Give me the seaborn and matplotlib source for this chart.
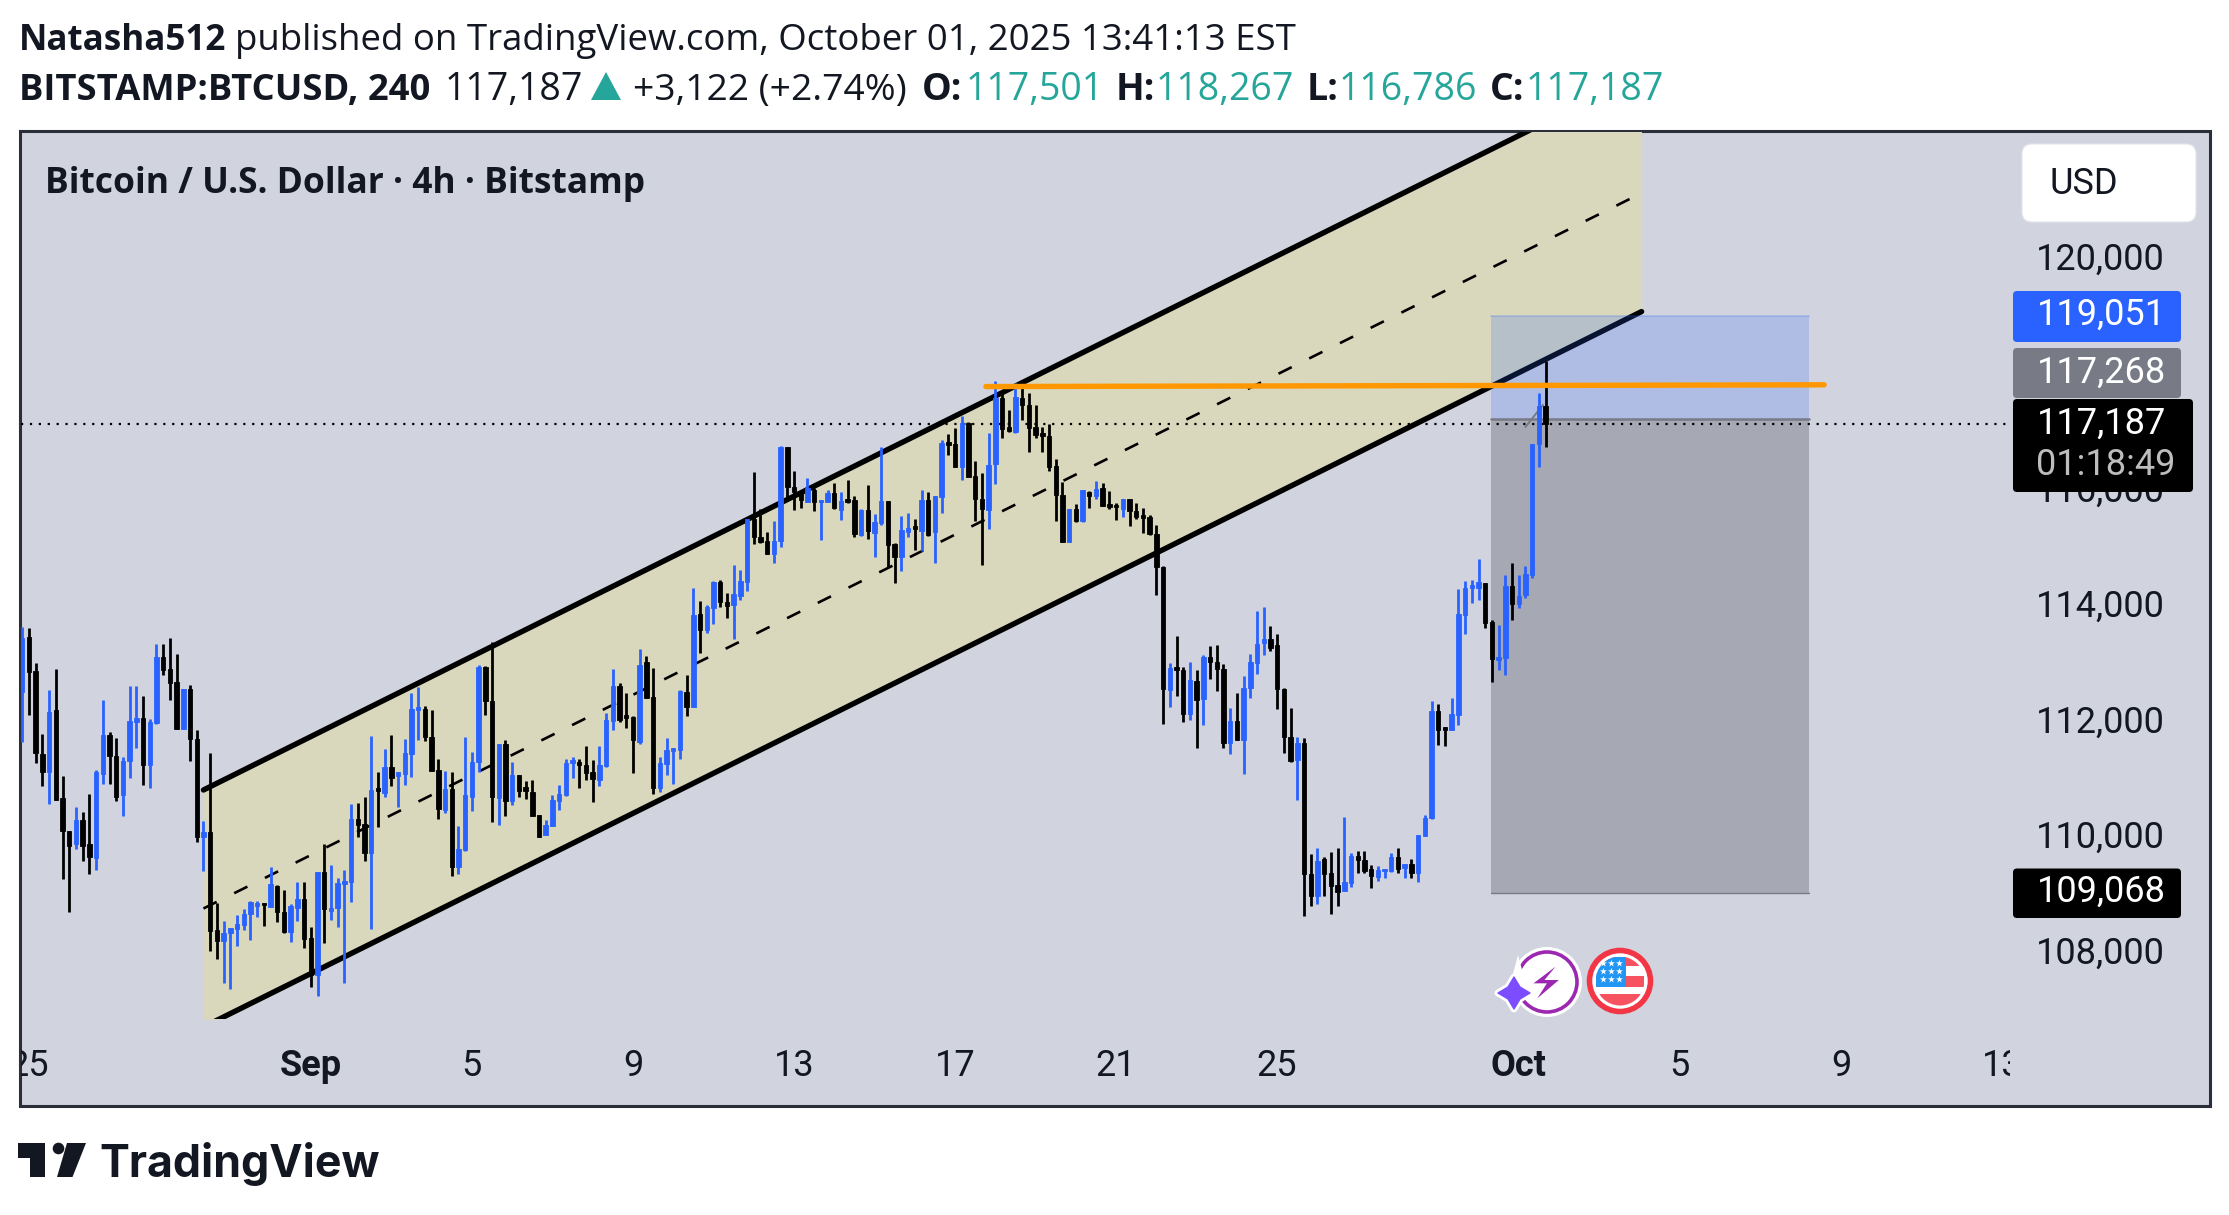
import numpy as np
import pandas as pd
import seaborn as sns
import matplotlib
matplotlib.use("Agg")
import matplotlib.pyplot as plt
from matplotlib.patches import Rectangle, FancyBboxPatch, Circle, Polygon
from matplotlib.transforms import Bbox, Affine2D

highs = [
113677,113648,113042,111820,112581,112944,111087,110136,110551,110464,
110776,111191,112402,111848,111745,111416,112644,112644,112471,112073,
113371,113371,113475,113198,112592,112662,111883,110309,111485,108890,
108579,108457,108682,108786,108936,108925,108890,109513,109201,109115,
108873,109253,109253,108475,109426,109911,109547,109323,109461,110603,
110620,110724,111779,111156,111554,111797,111168,111727,112523,112627,
112298,112229,111381,111174,111156,110222,111762,111502,113008,112990,
113406,111646,111716,111335,111110,111012,111024,110412,110332,110764,
110937,111387,111416,111387,111612,111364,111612,112177,112938,112696,
112523,112125,113284,113169,112956,111422,111750,111577,112575,112834,
114340,114115,114046,114461,114478,114253,114738,114651,115533,116347,
115706,115314,115499,116796,116779,116364,116041,116243,116070,115874,
116035,116156,116001,116208,115937,115706,116122,115626,116779,115845,
115118,115591,115637,115533,116035,116001,115931,116900,117010,117108,
117321,117223,116543,116330,117019,117919,117774,117416,117893,117946,
117714,117509,117125,117184,116569,116185,115708,115794,116032,116026,
116191,116165,116019,115807,115893,115893,115807,115721,115602,115430,
114721,113040,113510,112980,113059,112920,113179,113338,113351,113026,
112272,112536,112814,113198,113940,114013,113695,113543,112622,112265,
111775,111742,109736,109855,109683,109769,109842,110378,109756,109802,
109789,109544,109531,109484,109756,109842,109570,109650,110067,110411,
112384,112338,111934,112437,114331,114463,114478,114841,114432,113798,
113713,114578,114771,114563,114733,116833,117714,118267]
lows = [
111687,112148,111312,110926,110603,110672,109305,108746,109824,109617,
109392,109472,110960,110949,110666,110407,111064,111583,110943,110891,
111987,112846,112414,111912,111900,111358,109957,109455,108071,107933,
107517,107414,108158,108434,108261,108659,108504,108832,108573,108371,
108227,108590,108123,107448,107293,108209,108607,108486,107517,108919,
110043,109628,108452,110216,110735,110926,110562,110943,111081,111722,
111704,111185,110355,110459,109369,109392,109801,110493,111156,112154,
110303,110245,110406,110597,110735,110701,110406,110043,110078,110233,
110510,110752,111064,110891,111029,110649,110926,111254,111894,112033,
111929,111150,111646,112448,110787,110822,111116,110960,111393,112137,
112292,113227,113573,113728,114022,113832,113469,114144,114299,115112,
115130,114928,114784,115060,115879,115701,115735,115839,115683,115182,
115839,115712,115528,115822,115233,115251,115199,114887,115435,114703,
114438,114645,115233,115003,114985,115251,114784,115649,116646,116433,
116220,116272,115505,114748,115370,116151,116933,117045,117032,117244,
116701,116939,116701,116370,115509,115138,115138,115489,115489,115728,
115887,115761,115708,115522,115575,115417,115536,115297,115264,114231,
112000,112285,112477,112033,112066,111576,111980,112775,112569,111583,
111470,111722,111133,112444,112861,113185,113258,112258,111490,111338,
110676,108676,108835,108882,109021,108696,108835,109094,109173,109411,
109418,109153,109272,109325,109438,109418,109325,109325,109259,110060,
110351,111636,111616,111894,111968,113543,114092,114130,113659,112725,
112933,112833,113798,113991,114177,114524,116432,116786]
opens = [
112552,113492,112910,111468,111168,112229,110712,110136,109917,110326,
109911,109669,111122,111797,111433,110759,111347,112033,112091,111278,
112004,113146,112938,112714,111900,112592,111727,110043,110118,108429,
108244,108382,108452,108515,108711,108850,108890,108832,109190,108734,
108400,108815,108959,108284,107656,109426,108763,108809,109230,109265,
110343,110257,109755,110880,110805,111243,111099,111122,111479,112241,
112246,111762,111191,110505,110862,109524,109813,110735,111329,112973,
112385,110718,111646,110660,111110,110897,110816,110412,110078,110233,
110666,110758,111318,111341,111277,111156,111024,111260,112050,112650,
112148,112114,111687,113065,112454,110891,111295,111531,111543,112546,
112292,113890,113619,113994,114443,114097,114051,114213,114455,115533,
115233,115153,114934,115153,116779,116099,116024,115839,116035,115827,
115839,115983,115695,115879,115868,115262,115695,115303,115464,115845,
115107,114876,115314,115418,115332,115868,115314,115926,116871,116837,
116433,117194,116277,115893,115688,116489,117628,117131,117045,117628,
117509,117131,117032,116979,116449,115946,115138,115708,115496,116012,
115940,116072,115794,115787,115708,115893,115675,115615,115575,115271,
114708,112583,112973,112927,112166,112742,112430,113159,113059,112940,
111656,112046,111722,112622,113046,113390,113470,113357,112596,111768,
111371,111669,109405,109021,109650,109418,109199,109094,109239,109709,
109636,109484,109352,109451,109451,109683,109497,109563,109418,110060,
110358,112212,111934,111894,112146,113883,114347,114347,114432,113752,
113103,113126,114378,114061,114215,114571,116833,117501]
closes = [
113475,112898,111485,111168,112195,110672,110147,109888,110326,109888,
109686,111162,111797,111433,110724,111347,112039,112091,111278,112021,
113146,112927,112696,111912,112592,111739,110043,110118,108417,108244,
108371,108457,108527,108711,108907,108890,108855,109219,108734,108394,
108844,108959,108279,107656,109426,108786,108804,109248,109276,110343,
110245,109767,110845,110839,111243,111064,111168,111485,112246,112281,
111762,111185,110516,110862,109524,109824,110759,111329,112985,112385,
110724,111646,110666,111110,110839,110833,110406,110043,110245,110678,
110776,111324,111370,111277,111139,111047,111277,112062,112650,112062,
112102,111721,113007,112448,110891,111324,111543,111577,112558,112292,
113872,113619,114011,114443,114109,114040,114236,114461,115533,115233,
115135,114928,115153,116791,116099,116012,115868,116081,115839,115874,
115995,115724,115856,115827,115274,115695,115326,115481,115851,115095,
114887,115343,115383,115372,115868,115268,115931,116848,116819,116433,
117194,116272,115891,115708,116469,117628,117098,117059,117641,117509,
117111,116999,116966,116436,115946,115138,115708,115503,116032,115940,
116065,115767,115741,115741,115893,115675,115575,115562,115277,114715,
112596,112960,112934,112166,112755,112411,113159,113059,112940,111669,
112046,111722,112616,113059,113384,113470,113311,112596,111768,111358,
111669,109405,109021,109630,109398,109186,109087,109252,109709,109636,
109451,109365,109471,109484,109696,109484,109563,109418,110067,110365,
112212,111881,111894,112159,113899,114347,114401,114447,113737,113111,
113150,114378,114061,114208,114586,116833,117498,117187]

# drawings
channel_bars = [27.0, 241.3]
channel_upper = [110850, 123228]
channel_lower = [106750, 119127]
channel_mid = [108800, 121177]
level_bars = [143.6, 268.5]
level_prices = [117830, 117860]
position_bars = [218.9, 266.3]
target_price, entry_price, stop_price = 119051, 117268, 109068
last_price = 117187

ytick_values = [108000, 110000, 112000, 114000, 116000, 120000]
xtick_bars = [1, 43, 67, 91, 115, 139, 163, 187, 223, 247, 271, 295]
xtick_labels = ["25", "Sep", "5", "9", "13", "17", "21", "25", "Oct", "5", "9", "13"]
bold_labels = {"Sep", "Oct"}

BG = "#D1D4DE"; FRAME = "#2A2E39"; INK = "#131722"; UP = "#2962FF"; DOWN = "#000000"
TEAL = "#26A69A"; ORANGE = "#FF9800"; FILL = "#DAD8BC"

sns.set_theme(style="white")
plt.rcParams["font.family"] = ["Roboto", "DejaVu Sans"]
W, H = 2229, 1215
fig = plt.figure(figsize=(W / 100, H / 100), dpi=100, facecolor="white")

def axes_px(x0, y0, x1, y1, z):
    a = fig.add_axes([x0 / W, 1 - y1 / H, (x1 - x0) / W, (y1 - y0) / H], zorder=z)
    return a

# backdrop, in picture pixels
back = axes_px(0, 0, W, H, 0)
back.set_xlim(0, W); back.set_ylim(H, 0); back.axis("off")
back.add_patch(Rectangle((19.5, 130.5), 2190, 975, fc=BG, ec=FRAME, lw=2.2))

# price pane
ax = axes_px(21, 132, 2010, 1019, 1)
ax.patch.set_alpha(0)
for s in ax.spines.values():
    s.set_visible(False)
ax.grid(False)
bars = np.arange(len(opens))
o, c, hi, lo = map(np.array, (opens, closes, highs, lows))
colors = np.where(c >= o, UP, DOWN)

# channel
ax.fill_between(channel_bars, channel_lower, channel_upper, color=FILL, lw=0, zorder=1)
for ys in (channel_upper, channel_lower):
    sns.lineplot(x=channel_bars, y=ys, color="black", lw=3.9, ax=ax, zorder=2,
                 estimator=None, sort=False, solid_capstyle="round")
mid_line = ax.plot(channel_bars, channel_mid, color="black", lw=1.9, zorder=2)[0]
mid_line.set_dashes((5.6, 7.4))
mid_line.set_dash_capstyle("butt")

# position tool
width = position_bars[1] - position_bars[0]
ax.add_patch(Rectangle((position_bars[0], entry_price), width,
                       target_price - entry_price, fc=UP, alpha=0.2, lw=0, zorder=3))
ax.add_patch(Rectangle((position_bars[0], stop_price), width,
                       entry_price - stop_price, fc="#787B86", alpha=0.48, lw=0, zorder=3))
ax.plot(position_bars, [target_price] * 2, color=UP, alpha=0.25, lw=1.2, zorder=3)
ax.plot(position_bars, [entry_price] * 2, color="#787B86", lw=1.8, zorder=3)
ax.plot(position_bars, [stop_price] * 2, color="#787B86", lw=1.0, zorder=3)
ax.plot([224, 226.6], [117131, 117512], color="#787B86", lw=1.4, zorder=3)

# last price
dot = ax.axhline(last_price, color="black", lw=1.6, zorder=4)
dot.set_dashes((1.0, 3.0))
dot.set_dash_capstyle("butt")

# candles
ax.vlines(bars, lo, hi, colors=colors, lw=2.0, zorder=5)
ax.bar(bars, c - o, bottom=o, width=0.66, color=colors, edgecolor=colors, linewidth=0.6, zorder=6)

# horizontal level
ax.plot(level_bars, level_prices, color=ORANGE, lw=3.9, zorder=7, solid_capstyle="round")

ax.set_xlim(-0.19, 296.2)
ax.set_ylim(106888, 122234)
ax.yaxis.tick_right()
ax.set_yticks(ytick_values)
ax.set_yticklabels([f"{v:,}" for v in ytick_values])
ax.tick_params(axis="y", length=0, pad=19, labelsize=26, labelcolor=INK)
for t in ax.get_yticklabels():
    t.set_transform(t.get_transform() + Affine2D().translate(0, 5))
ax.set_xticks(xtick_bars)
ax.set_xticklabels(xtick_labels)
ax.tick_params(axis="x", length=0, pad=21, labelsize=26, labelcolor=INK)
clip = Bbox([[21, 0], [2010, H]])
for t in ax.get_xticklabels():
    t.set_clip_box(clip)
    t.set_clip_on(True)
    if t.get_text() in bold_labels:
        t.set_fontweight("bold")
ax.set_xlabel(""); ax.set_ylabel("")

# overlay in picture pixels
top = axes_px(0, 0, W, H, 2)
top.patch.set_alpha(0)
top.set_xlim(0, W); top.set_ylim(H, 0); top.axis("off")

def tag(x0, y0, x1, y1, color):
    top.add_patch(FancyBboxPatch((x0, y0), x1 - x0, y1 - y0, boxstyle="round,pad=0,rounding_size=4",
                                 fc=color, ec="none"))

tag(2013, 291, 2181, 342, UP)
tag(2013, 348, 2181, 398, "#787B86")
tag(2013, 399, 2193, 492, "#000000")
tag(2013, 868.5, 2181, 918, "#000000")
top.add_patch(FancyBboxPatch((2022, 144), 174, 78, boxstyle="round,pad=0,rounding_size=10",
                             fc="white", ec="#E3E5EA", lw=0.8))
rob = dict(family=["Roboto", "DejaVu Sans"], fontsize=26, va="center", ha="left")
top.text(2049, 184, "USD", color=INK, **rob)
top.text(2037, 315, "119,051", color="white", **rob)
top.text(2037, 373, "117,268", color="white", **rob)
top.text(2037, 424, "117,187", color="white", **rob)
top.text(2036, 465, "01:18:49", color="#BDBDBD", **rob)
top.text(2037, 892, "109,068", color="white", **rob)

# header
hf = ["Open Sans", "Noto Sans", "DejaVu Sans"]
def head(x, y, s, color=INK, weight="normal", size=26):
    top.text(x, y, s, color=color, fontweight=weight, fontsize=size, family=hf, va="baseline", ha="left")

head(19, 50, "Natasha512", weight="bold", size=25.2)
head(235, 50, "published on TradingView.com, October 01, 2025 13:41:13 EST", size=26.4)
head(19, 100, "BITSTAMP:BTCUSD, 240", weight="bold", size=26.2)
head(445, 100, "117,187", size=27)
top.add_patch(Polygon([(591, 100), (621, 100), (606, 72)], fc=TEAL, ec="none"))
head(633, 100, "+3,122 (+2.74%)", size=26.8)
for x, s in [(922, "O:"), (1116, "H:"), (1307, "L:"), (1490, "C:")]:
    head(x, 100, s, weight="bold", size=27)
for x, s in [(966, "117,501"), (1156, "118,267"), (1339, "116,786"), (1526, "117,187")]:
    head(x, 100, s, color=TEAL, size=27)
head(45, 193, "Bitcoin / U.S. Dollar · 4h · Bitstamp", weight="bold", size=25.5)

# logo
top.add_patch(Polygon([(18, 1143), (45, 1143), (45, 1177), (30, 1177), (30, 1158), (18, 1158)], fc=INK, ec="none"))
top.add_patch(Circle((58.5, 1148.5), 5.8, fc=INK, ec="none"))
top.add_patch(Polygon([(67, 1143), (86, 1143), (72.5, 1177), (57, 1177)], fc=INK, ec="none"))
top.text(99, 1177, "TradingView", color=INK, fontsize=32.2, fontweight="bold",
         family=["Inter", "Roboto", "DejaVu Sans"], va="baseline", ha="left")

# event icons
def zx(v): return 1480 + v / 2.093
def zy(v): return 920 + v / 3
top.add_patch(Circle((1547, 982), 35, fc="white", ec="none"))
top.add_patch(Circle((1547, 982), 30, fc="white", ec="#9C27B0", lw=2.6))
top.add_patch(Polygon([(zx(x), zy(y)) for x, y in [(158, 140), (112, 190), (140, 190), (120, 235), (165, 180), (135, 180)]],
                      fc="#9C27B0", ec="none"))
star = [(1514, 977), (1520, 987), (1530, 993), (1520, 999), (1514, 1009), (1508, 999), (1498, 993), (1508, 987)]
top.add_patch(Polygon([(1512, 978), (1518, 955), (1526, 985)], fc="white", ec="none"))
top.add_patch(Polygon(star, fc="white", ec="white", lw=5, joinstyle="round"))
top.add_patch(Polygon(star, fc="#7C4DFF", ec="#7C4DFF", lw=1, joinstyle="round"))
top.add_patch(Circle((1620, 981), 30.5, fc="white", ec="#F23645", lw=4))
disc = Circle((1620, 981), 24.5, transform=top.transData)
for x0, yy, w, hh, col in [(1596, 957, 48, 9, "#F7525F"), (1596, 976, 48, 11, "#F7525F"),
                           (1596, 994, 48, 12, "#F7525F"), (1596, 957, 30, 30, "#2196F3")]:
    r = top.add_patch(Rectangle((x0, yy), w, hh, fc=col, ec="none"))
    r.set_clip_path(disc)
sx, sy = np.meshgrid([1603, 1611, 1619], [963, 971, 979])
top.scatter(sx.ravel(), sy.ravel(), marker="*", s=28, c="white", linewidths=0)

fig.savefig("out.png", dpi=100, facecolor="white")
